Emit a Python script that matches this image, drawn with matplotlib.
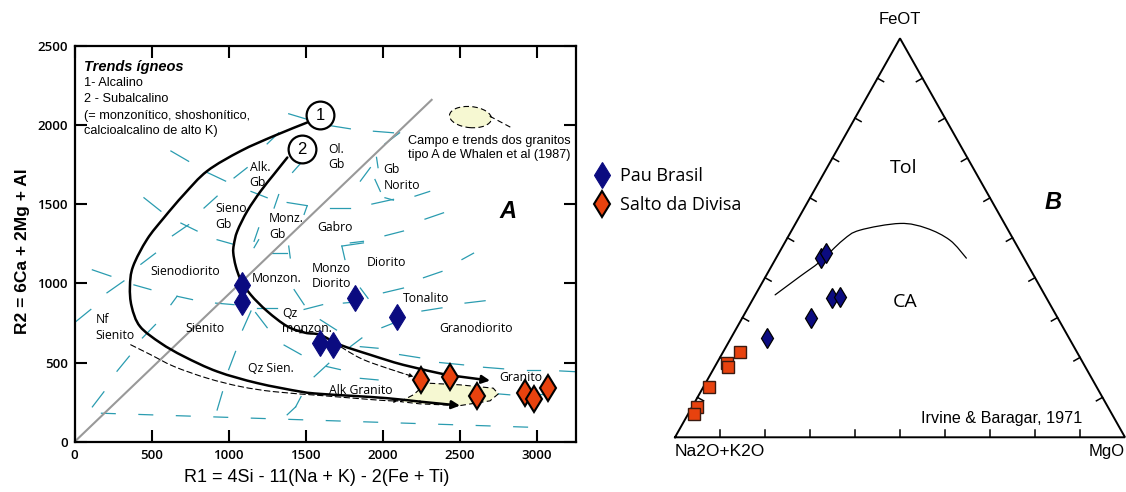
import numpy as np
import matplotlib.pyplot as plt
from matplotlib.patches import Polygon, Ellipse, PathPatch
from matplotlib.path import Path

# ---- panel A : R1-R2 diagram (De La Roche) ----
pau_r1 = [1085, 1085, 1590, 1680, 1820, 2090]
pau_r2 = [990, 885, 625, 610, 910, 790]
salto_r1 = [2250, 2435, 2615, 2925, 2985, 3075]
salto_r2 = [390, 410, 290, 305, 270, 340]

# trend 1 (alcalino) and trend 2 (subalcalino)
trend1_r1 = [1510, 1294, 1078, 861, 710, 580, 470, 379, 359, 370, 424, 558, 710,
             926, 1186, 1468, 1593, 1809, 2026, 2242, 2502]
trend1_r2 = [2015, 1930, 1835, 1709, 1561, 1414, 1277, 1106, 979, 854, 728, 623,
             538, 443, 370, 316, 302, 289, 275, 253, 228]
trend2_r1 = [1381, 1294, 1208, 1121, 1056, 1034, 1030, 1046, 1078, 1143, 1251, 1381,
             1496, 1593, 1723, 1918, 2134, 2416, 2697]
trend2_r2 = [1794, 1688, 1582, 1456, 1329, 1245, 1192, 1108, 1023, 928, 823, 728,
             688, 675, 612, 549, 485, 422, 386]

# dashed trends (Whalen et al. 1987)
whalen_low_r1 = [364, 494, 645, 861, 1078, 1294, 1593, 1809, 2026, 2100]
whalen_low_r2 = [612, 549, 475, 401, 348, 316, 292, 275, 259, 258]
whalen_up_r1 = [1680, 1853, 2026, 2199]
whalen_up_r2 = [628, 528, 465, 411]
field_r1 = [2114, 2199, 2286, 2502, 2718, 2751, 2697, 2502, 2242]
field_r2 = [253, 296, 370, 359, 338, 302, 258, 228, 239]

divider_r1 = [0, 2318]
divider_r2 = [0, 2158]

# field boundary dashes of the base diagram
boundary_segments = [
    ((1390, 2070), (1510, 2035)), ((1250, 1880), (1325, 1950)), ((625, 1835), (740, 1770)),
    ((860, 1700), (980, 1645)), ((1035, 1665), (1120, 1730)), ((1415, 1700), (1470, 1760)),
    ((450, 1540), (560, 1455)), ((840, 1475), (925, 1550)), ((1145, 1580), (1250, 1540)),
    ((1295, 1475), (1325, 1560)), ((1380, 1510), (1510, 1490)), ((1510, 1490), (1490, 1435)),
    ((690, 1380), (795, 1330)), ((635, 1300), (740, 1370)), ((1165, 1265), (1195, 1350)),
    ((1660, 1995), (1790, 1975)), ((1940, 1960), (2070, 1950)), ((2015, 1880), (2110, 1950)),
    ((1855, 1645), (1920, 1730)), ((1960, 1795), (1970, 1730)), ((1950, 1655), (1985, 1580)),
    ((1660, 1477), (1790, 1477)), ((1930, 1500), (2070, 1530)), ((2015, 1540), (2070, 1525)),
    ((2210, 1550), (2305, 1580)), ((2275, 1405), (2395, 1445)), ((2015, 1300), (2135, 1330)),
    ((1790, 1255), (1875, 1265)), ((115, 1085), (235, 1045)), ((430, 1120), (525, 1190)),
    ((210, 940), (320, 1015)), ((10, 760), (105, 835)), ((385, 990), (495, 960)),
    ((625, 865), (665, 918)), ((665, 918), (765, 897)), ((440, 655), (525, 740)),
    ((275, 445), (355, 540)), ((115, 220), (190, 315)), ((915, 875), (1035, 865)),
    ((1090, 705), (1145, 825)), ((1175, 815), (1250, 720)), ((1185, 845), (1315, 845)),
    ((1000, 455), (1045, 570)), ((925, 200), (960, 315)), ((1435, 220), (1470, 285)),
    ((1360, 610), (1470, 550)), ((1425, 960), (1490, 865)), ((1275, 1192), (1380, 1192)),
    ((1390, 1235), (1400, 1160)), ((1165, 1225), (1195, 1275)), ((925, 1275), (1035, 1245)),
    ((1490, 835), (1610, 865)), ((1555, 410), (1650, 495)), ((1735, 1235), (1875, 1255)),
    ((1735, 1235), (1755, 1150)), ((2515, 1150), (2590, 1190)), ((2265, 1035), (2385, 1075)),
    ((2005, 940), (2135, 970)), ((1855, 970), (1905, 905)), ((1745, 875), (1855, 885)),
    ((2535, 875), (2665, 890)), ((2255, 825), (2385, 845)), ((1995, 720), (2125, 770)),
    ((1595, 770), (1700, 705)), ((1790, 600), (1865, 655)), ((1855, 600), (1970, 590)),
    ((2110, 550), (2240, 530)), ((2370, 500), (2525, 485)), ((2655, 470), (2785, 460)),
    ((2935, 455), (3020, 455)), ((3150, 447), (3250, 442)), ((1855, 400), (1970, 390)),
    ((2440, 327), (2565, 316)), ((2700, 306), (2825, 296)), ((2980, 302), (3065, 295)),
    ((1635, 475), (1725, 455)), ((1380, 170), (1435, 220)),
]
base_line_r1 = [170, 3000]
base_line_r2 = [180, 90]

field_labels = [
    ("Ol.\nGb", 1647, 1796), ("Gb\nNorito", 2004, 1669), ("Alk.\nGb", 1136, 1683),
    ("Sieno\nGb", 916, 1421), ("Monz.\nGb", 1262, 1358), ("Gabro", 1572, 1351),
    ("Diorito", 1896, 1133), ("Monzo\nDiorito", 1539, 1047), ("Tonalito", 2134, 903),
    ("Granodiorito", 2366, 713), ("Granito", 2757, 408), ("Alk Granito", 1653, 321),
    ("Qz Sien.", 1127, 464), ("Sienito", 716, 713), ("Sienodiorito", 489, 1076),
    ("Monzon.", 1153, 1028), ("Qz\nmonzon.", 1348, 762), ("Nf\nSienito", 136, 720),
]

# ---- panel B : AFM diagram (Irvine & Baragar, 1971), percent A-F-M ----
pau_a = [45.0, 43.5, 47.5, 45.7, 54.9, 67.2]
pau_f = [44.9, 46.1, 35.0, 35.2, 29.8, 24.8]
pau_m = [10.1, 10.4, 17.5, 19.1, 15.3, 8.0]
salto_a = [74.8, 79.2, 79.3, 86.3, 91.2, 92.9]
salto_f = [21.5, 18.6, 17.7, 12.5, 7.7, 5.8]
salto_m = [3.7, 2.2, 3.0, 1.2, 1.1, 1.3]
ib_a = [59.9, 52.1, 45.8, 38.0, 33.0, 23.2, 17.9, 14.2, 12.8]
ib_f = [35.7, 40.3, 44.0, 49.4, 51.9, 53.6, 52.4, 49.4, 44.9]
ib_m = [4.4, 7.6, 10.2, 12.6, 15.1, 23.2, 29.7, 36.4, 42.3]

NAVY = "#0b0b80"
ORANGE = "#e8420e"
TEAL = "#2a9cb0"
PALE = "#f6f8d2"
MYRIAD = ["Open Sans", "DejaVu Sans"]
ARIAL = ["Liberation Sans", "DejaVu Sans"]
DASH = (0, (5, 3))


def tern(a, f, m):
    a, f, m = (np.asarray(v, dtype=float) for v in (a, f, m))
    s = a + f + m
    return (m + f / 2) / s, f / s * np.sqrt(3) / 2


def smooth_path(xs, ys):
    """Catmull-Rom curve through the given points, as cubic Bezier path."""
    pts = np.column_stack([xs, ys]).astype(float)
    ext = np.vstack([pts[0], pts, pts[-1]])
    verts = [pts[0]]
    codes = [Path.MOVETO]
    for i in range(1, len(ext) - 2):
        p0, p1, p2, p3 = ext[i - 1], ext[i], ext[i + 1], ext[i + 2]
        verts += [p1 + (p2 - p0) / 6, p2 - (p3 - p1) / 6, p2]
        codes += [Path.CURVE4] * 3
    return Path(verts, codes)


def draw_curve(axis, xs, ys, **kw):
    axis.add_patch(PathPatch(smooth_path(xs, ys), fill=False, capstyle="round", **kw))


fig = plt.figure(figsize=(11.26, 4.92), dpi=100)

# ================= panel A =================
ax = fig.add_axes([0.0663, 0.1022, 0.4452, 0.805])
ax.set_xlim(0, 3255)
ax.set_ylim(0, 2500)

for (x0, y0), (x1, y1) in boundary_segments:
    ax.plot([x0, x1], [y0, y1], color=TEAL, lw=0.9, zorder=1)
ax.plot(base_line_r1, base_line_r2, color=TEAL, lw=0.9, ls=(0, (12, 18)), zorder=1)

ax.plot(divider_r1, divider_r2, color="#999999", lw=1.5, zorder=2)

ax.add_patch(Polygon(np.column_stack([field_r1, field_r2]), closed=True,
                     facecolor=PALE, edgecolor="black", lw=0.8, ls=DASH, zorder=2))
ax.add_patch(Ellipse((2570, 2049), 273, 133, angle=-5, facecolor=PALE,
                     edgecolor="black", lw=0.8, ls=DASH, zorder=2))
ax.plot([2695, 2838], [2055, 1981], color="black", lw=0.8, ls=DASH, zorder=2)

draw_curve(ax, whalen_low_r1, whalen_low_r2, color="black", lw=0.8, ls=DASH, zorder=3)
draw_curve(ax, whalen_up_r1, whalen_up_r2, color="black", lw=0.8, ls=DASH, zorder=3)
for xs, ys in ((whalen_up_r1, whalen_up_r2), (whalen_low_r1, whalen_low_r2)):
    ax.annotate("", xy=(xs[-1], ys[-1]), xytext=(xs[-2], ys[-2]),
                arrowprops=dict(arrowstyle="-|>", color="black", lw=0.1,
                                mutation_scale=8, shrinkA=0, shrinkB=0), zorder=3)

draw_curve(ax, trend1_r1[:-1], trend1_r2[:-1], color="black", lw=1.8, zorder=4)
draw_curve(ax, trend2_r1[:-1], trend2_r2[:-1], color="black", lw=1.8, zorder=4)
for xs, ys in ((trend1_r1, trend1_r2), (trend2_r1, trend2_r2)):
    ax.annotate("", xy=(xs[-1], ys[-1]), xytext=(xs[-2], ys[-2]),
                arrowprops=dict(arrowstyle="-|>", color="black", lw=1.8,
                                mutation_scale=12, shrinkA=0, shrinkB=0), zorder=4)
ax.annotate("", xy=(trend2_r1[12], trend2_r2[12]), xytext=(trend2_r1[11], trend2_r2[11]),
            arrowprops=dict(arrowstyle="-|>", color="black", lw=0.1,
                            mutation_scale=9, shrinkA=0, shrinkB=0), zorder=4)

for label, cx, cy in (("1", 1593, 2061), ("2", 1474, 1846)):
    ax.plot(cx, cy, marker="o", ms=20, mfc="white", mec="black", mew=1.6, zorder=5)
    ax.text(cx, cy, label, ha="center", va="center", fontsize=12, family=ARIAL, zorder=6)

for text, x, y in field_labels:
    ax.text(x, y, text, ha="left", va="center", fontsize=8.8, family=MYRIAD,
            linespacing=1.25, zorder=5)

ax.text(60, 2365, "Trends ígneos", fontsize=10.5, fontweight="bold", style="italic",
        family=ARIAL, va="center")
for text, y in (("1- Alcalino", 2263), ("2 - Subalcalino", 2163),
                ("(= monzonítico, shoshonítico,", 2055), ("calcioalcalino de alto K)", 1960)):
    ax.text(60, y, text, fontsize=9.2, family=ARIAL, va="center")
ax.text(2162, 1856, "Campo e trends dos granitos\ntipo A de Whalen et al (1987)",
        fontsize=9.1, family=ARIAL, va="center", linespacing=1.2)
ax.text(2816, 1456, "A", fontsize=17, fontweight="bold", style="italic", family=ARIAL,
        ha="center", va="center")

ax.plot(pau_r1, pau_r2, ls="none", marker="d", ms=13, mfc=NAVY, mec=NAVY, mew=0.8,
        zorder=7, label="Pau Brasil")
ax.plot(salto_r1, salto_r2, ls="none", marker="d", ms=13, mfc=ORANGE, mec="black",
        mew=1.5, zorder=7, label="Salto da Divisa")

ax.set_xticks([0, 500, 1000, 1500, 2000, 2500, 3000])
ax.set_yticks([0, 500, 1000, 1500, 2000, 2500])
ax.tick_params(direction="in", length=8.5, width=1.5, top=True, right=True,
               labelsize=9.5, pad=5)
for lab in ax.get_xticklabels() + ax.get_yticklabels():
    lab.set_fontfamily(MYRIAD)
    lab.set_fontweight("semibold")
for spine in ax.spines.values():
    spine.set_linewidth(1.6)
ax.set_xlabel("R1 = 4Si - 11(Na + K) - 2(Fe + Ti)", fontsize=13, family=ARIAL)
ax.xaxis.set_label_coords(0.483, -0.068)
ax.set_ylabel("R2 = 6Ca + 2Mg + Al", fontsize=12.5, family=ARIAL, fontweight="bold")
ax.yaxis.set_label_coords(-0.089, 0.48)

handles, labels = ax.get_legend_handles_labels()
fig.legend(handles, labels, loc="center left", bbox_to_anchor=(0.52, 0.613),
           frameon=False, prop={"family": MYRIAD, "size": 13}, handlelength=1.0,
           handletextpad=0.5, labelspacing=0.6, borderaxespad=0)

# ================= panel B =================
bx = fig.add_axes([660 / 1126, 22 / 492, 466 / 1126, 460 / 492])
bx.set_xlim(-0.0333, 1.0022)
bx.set_ylim(-0.071, 0.9275)
bx.axis("off")

h = np.sqrt(3) / 2
bx.plot([0, 1, 0.5, 0], [0, 0, h, 0], color="black", lw=1.4, clip_on=False,
        solid_joinstyle="miter")
tick_px = 7.0
for k in range(1, 10):
    t = k / 10
    bx.plot([t, t], [0, tick_px / 460.7], color="black", lw=1.1)
    lx, ly = 0.5 * t, h * t
    bx.plot([lx, lx + 0.871 * tick_px / 450], [ly, ly - 0.491 * tick_px / 460.7],
            color="black", lw=1.1)
    rx, ry = 1 - 0.5 * t, h * t
    bx.plot([rx, rx - 0.871 * tick_px / 450], [ry, ry - 0.491 * tick_px / 460.7],
            color="black", lw=1.1)

ib_x, ib_y = tern(ib_a, ib_f, ib_m)
draw_curve(bx, ib_x, ib_y, color="black", lw=0.9)

px_, py_ = tern(pau_a, pau_f, pau_m)
bx.plot(px_, py_, ls="none", marker="d", ms=10, mfc=NAVY, mec="black", mew=0.9,
        zorder=5, clip_on=False)
sx_, sy_ = tern(salto_a, salto_f, salto_m)
bx.plot(sx_, sy_, ls="none", marker="s", ms=9, mfc=ORANGE, mec="#3a1a10", mew=1.0,
        zorder=5, clip_on=False)

bx.text(0.5, 0.906, "FeOT", ha="center", va="center", fontsize=12, family=ARIAL)
bx.text(0.0, -0.031, "Na2O+K2O", ha="left", va="center", fontsize=12.5, family=ARIAL)
bx.text(1.0, -0.031, "MgO", ha="right", va="center", fontsize=12, family=ARIAL)
bx.text(0.507, 0.584, "Tol", ha="center", va="center", fontsize=14, family=MYRIAD)
bx.text(0.511, 0.294, "CA", ha="center", va="center", fontsize=14, family=MYRIAD)
bx.text(0.84, 0.509, "B", ha="center", va="center", fontsize=17, fontweight="bold",
        style="italic", family=ARIAL)
bx.text(0.904, 0.041, "Irvine & Baragar, 1971", ha="right", va="center",
        fontsize=11.6, family=ARIAL)

fig.savefig("out.png", dpi=100)
